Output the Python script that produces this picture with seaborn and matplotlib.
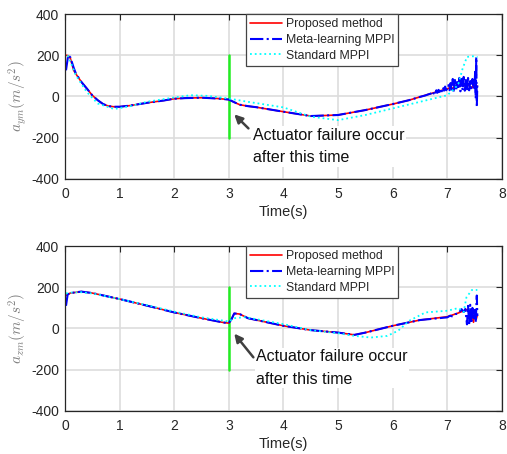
import numpy as np
import pandas as pd
import matplotlib
matplotlib.use("Agg")
import matplotlib.pyplot as plt
import seaborn as sns

sns.set_style("white")
plt.rcParams['font.family'] = ['Liberation Sans', 'DejaVu Sans']
plt.rcParams['mathtext.fontset'] = 'cm'
plt.rcParams['axes.unicode_minus'] = False

# --- DATA ---
# top panel: a_ym
t_top_main = [0.02, 0.06, 0.1, 0.16, 0.2, 0.3, 0.4, 0.5, 0.6, 0.7, 0.8, 0.9, 1.0, 1.2, 1.5,
              1.8, 2.0, 2.2, 2.5, 2.8, 3.0, 3.1, 3.2, 3.35, 3.5, 4.0, 4.5, 5.0, 5.5, 6.0, 6.3, 6.5]
ym_red_main = [200, 198, 185, 127, 110, 71, 39, 6, -18, -37, -47, -50, -50, -44, -31,
               -20, -11, -8, -6, -10, -15, -28, -40, -47, -52, -74, -95, -90, -66, -37, -18, -2]
ym_blue_main = [127, 200, 190, 140, 112, 71, 39, 6, -18, -37, -47, -50, -50, -44, -31,
                -20, -11, -8, -6, -10, -15, -28, -40, -47, -52, -74, -95, -90, -66, -37, -18, -2]

t_top_red_tail = [6.6, 6.7, 6.8, 6.9, 7.0, 7.05, 7.1, 7.15, 7.2, 7.25, 7.3, 7.35, 7.4, 7.45, 7.5, 7.53, 7.55]
ym_red_tail = [6, 14, 22, 30, 36, 44, 40, 52, 46, 58, 50, 60, 52, 42, 60, 45, 50]

t_top_blue_tail = [6.60, 6.65, 6.70, 6.72, 6.74, 6.76, 6.78, 6.80, 6.82, 6.84, 6.86, 6.88, 6.90, 6.92,
                   6.94, 6.96, 6.98, 7.00, 7.02, 7.04, 7.06, 7.08, 7.10, 7.12, 7.14, 7.16, 7.18, 7.20,
                   7.22, 7.24, 7.26, 7.28, 7.30, 7.32, 7.34, 7.36, 7.38, 7.40, 7.42, 7.44, 7.46, 7.48,
                   7.50, 7.51, 7.52, 7.53, 7.54, 7.55]
ym_blue_tail = [5, 10, 14, 20, 10, 24, 14, 30, 18, 32, 22, 38, 25, 44, 28, 48, 30, 40, 55, 30, 65,
                25, 85, 20, 80, 28, 70, 35, 90, 25, 85, 30, 95, 28, 80, 35, 90, 30, 75, 40, 85, 35,
                60, 120, -10, 192, -50, 60]

t_top_cyan = [0.05, 0.1, 0.2, 0.4, 0.6, 0.9, 1.2, 1.5, 2.0, 2.3, 2.6, 3.0, 3.35, 4.0, 4.5, 5.0,
              5.5, 6.0, 6.5, 7.0, 7.1, 7.2, 7.28, 7.36, 7.45, 7.52, 7.55]
ym_cyan = [200, 170, 103, 22, -34, -61, -47, -26, -5, 6, 3, -10, -26, -53, -98, -115,
           -90, -58, -26, 6, 30, 58, 135, 192, 195, 195, 190]

# bottom panel: a_zm
t_bot_main = [0.02, 0.05, 0.1, 0.3, 0.5, 1.0, 1.5, 2.0, 2.5, 2.9, 3.0, 3.05, 3.1, 3.2, 3.35,
              4.0, 4.5, 5.0, 5.3, 5.5, 6.0, 6.5, 7.0]
zm_red_main = [160, 165, 172, 179, 172, 143, 111, 78, 50, 29, 26, 45, 73, 70, 50,
               13, -8, -20, -31, -20, 13, 41, 57]
zm_blue_main = [110, 165, 172, 179, 172, 143, 111, 78, 50, 29, 26, 45, 73, 70, 50,
                13, -8, -20, -31, -20, 13, 41, 54]

t_bot_red_tail = [7.0, 7.1, 7.2, 7.3, 7.38, 7.42, 7.45, 7.48, 7.5, 7.53, 7.55]
zm_red_tail = [57, 66, 75, 86, 94, 40, 70, 30, 80, 45, 65]

t_bot_blue_tail = [7.0, 7.05, 7.1, 7.15, 7.2, 7.26, 7.3, 7.33, 7.36, 7.38, 7.40, 7.42, 7.44,
                   7.46, 7.48, 7.50, 7.52, 7.54, 7.55]
zm_blue_tail = [54, 62, 58, 70, 72, 94, 80, 95, 20, 110, 15, 115, 25, 100, 40, 90, 30, 160, 60]

t_bot_cyan = [0.02, 0.1, 0.3, 0.5, 1.0, 1.5, 2.0, 2.5, 3.0, 3.1, 3.3, 4.0, 4.5, 5.0, 5.3, 5.6,
              5.9, 6.1, 6.3, 6.6, 7.0, 7.2, 7.3, 7.35, 7.45, 7.55]
zm_cyan = [170, 174, 176, 170, 143, 113, 82, 54, 34, 50, 55, 21, -8, -23, -36, -44,
           -36, -11, 37, 78, 86, 99, 80, 151, 187, 187]

labels = ["Proposed method", "Meta-learning MPPI", "Standard MPPI"]
yticks = [-400, -200, 0, 200, 400]
xticks = [0, 1, 2, 3, 4, 5, 6, 7, 8]
fail_time = 3

# --- PLOT ---
fig, axes = plt.subplots(2, 1, figsize=(5.07, 4.54), dpi=100)
plt.subplots_adjust(left=0.128, right=0.990, top=0.969, bottom=0.095, hspace=0.408)

panels = [
    (axes[0], t_top_main, ym_red_main, ym_blue_main, t_top_red_tail, ym_red_tail,
     t_top_blue_tail, ym_blue_tail, t_top_cyan, ym_cyan, r'$a_{ym}(m/s^2)$',
     (3.10, -87), (3.36, -155), (3.44, -243)),
    (axes[1], t_bot_main, zm_red_main, zm_blue_main, t_bot_red_tail, zm_red_tail,
     t_bot_blue_tail, zm_blue_tail, t_bot_cyan, zm_cyan, r'$a_{zm}(m/s^2)$',
     (3.10, -25), (3.45, -140), (3.50, -192)),
]

for (ax, t_main, red_main, blue_main, t_rt, red_t, t_bt, blue_t, t_c, cyan,
     ylab, tip, tail, txt) in panels:
    red_x = t_main + t_rt
    red_y = red_main + red_t
    blue_x = t_main + t_bt
    blue_y = blue_main + blue_t

    sns.lineplot(x=red_x, y=red_y, ax=ax, color='#ff0000', lw=1.2, estimator=None,
                 sort=False, label=labels[0])
    sns.lineplot(x=blue_x, y=blue_y, ax=ax, color='#0000ff', lw=1.5, linestyle='-.',
                 estimator=None, sort=False, label=labels[1])
    sns.lineplot(x=t_c, y=cyan, ax=ax, color='#00ffff', lw=1.3, linestyle=':',
                 estimator=None, sort=False, label=labels[2])

    ax.plot([fail_time, fail_time], [-200, 200], color='#22ee22', lw=1.8, zorder=1)

    ax.annotate("", xy=tip, xytext=tail,
                arrowprops=dict(arrowstyle='-|>', color='#404040', lw=1.8,
                                mutation_scale=12, shrinkA=0, shrinkB=0))
    ax.text(txt[0], txt[1], "Actuator failure occur\nafter this time", fontsize=11.5,
            ha='left', va='center', linespacing=1.65, zorder=5, color='#111111',
            bbox=dict(facecolor='white', edgecolor='none', pad=1))

    ax.set_xlim(0, 8)
    ax.set_ylim(-400, 400)
    ax.set_xticks(xticks)
    ax.set_yticks(yticks)
    ax.grid(True, color='#dddddd', lw=1.2)
    ax.set_axisbelow(True)
    for s in ax.spines.values():
        s.set_color('#262626')
        s.set_linewidth(0.9)
    ax.tick_params(direction='in', top=True, right=True, length=4, width=0.8,
                   labelsize=10, colors='#262626', pad=4)
    ax.tick_params(axis='x', pad=6)
    ax.set_xlabel("Time(s)", fontsize=10.5, labelpad=3, color='#262626')
    ax.set_ylabel(ylab, fontsize=11, color='#808080', labelpad=2)

    leg = ax.legend(loc='upper left', bbox_to_anchor=(0.414, 1.0), fontsize=8.8,
                    frameon=True, fancybox=False, framealpha=1, edgecolor='#444444',
                    borderpad=0.35, labelspacing=0.3, handlelength=2.6,
                    handletextpad=0.3, borderaxespad=0)
    leg.get_frame().set_linewidth(0.9)

plt.savefig("out.png", dpi=100)
plt.close()
